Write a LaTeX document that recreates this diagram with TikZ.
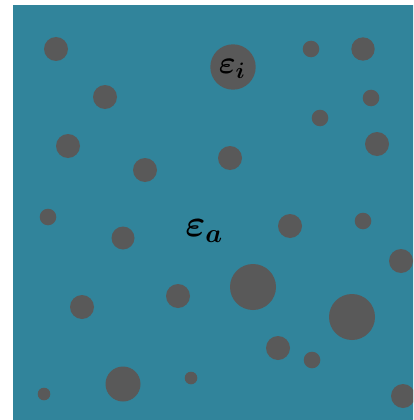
\RequirePackage{fix-cm}
\documentclass[tikz,border=0pt]{standalone}
\usepackage{amsmath,bm}
\definecolor{tealbg}{RGB}{49,132,155}
\definecolor{dot}{RGB}{89,89,89}
\begin{document}
\begin{tikzpicture}[x=1pt,y=-1pt,
  dotfill/.style={fill=dot},
  lbl/.style={inner sep=0pt}]
\useasboundingbox (0,0) rectangle (413,420);
\fill[white] (0,0) rectangle (413,420);
\clip (13,5) rectangle (413,420);
\fill[tealbg] (13,5) rectangle (420,425);
\foreach \x/\y/\r in {
 56/49/12, 233/67/22.7, 311/49/8.3, 363/49/11.7, 105/97/12, 371/98/8.3,
 320/118/8.3, 68/146/12, 377/144/12, 145/170/12, 230/158/12,
 48/217/8.3, 123/238/11.5, 290/226/12, 363/221/8.3, 401/261/12,
 253/287/23, 178/296/12, 82/307/12, 352/317/23, 278/348/12,
 312/360/8.3, 123/384/17.5, 191/378/6.3, 44/394/6.3, 403/396/12}
  \fill[dotfill] (\x,\y) circle (\r);
\node[lbl,font=\fontsize{32}{32}\selectfont] (ei) at (232,69) {$\bm{\varepsilon}_{\bm{i}}$};
\node[lbl,font=\fontsize{38}{38}\selectfont] (ea) at (204,231) {$\bm{\varepsilon}_{\bm{a}}$};
\end{tikzpicture}
\end{document}
